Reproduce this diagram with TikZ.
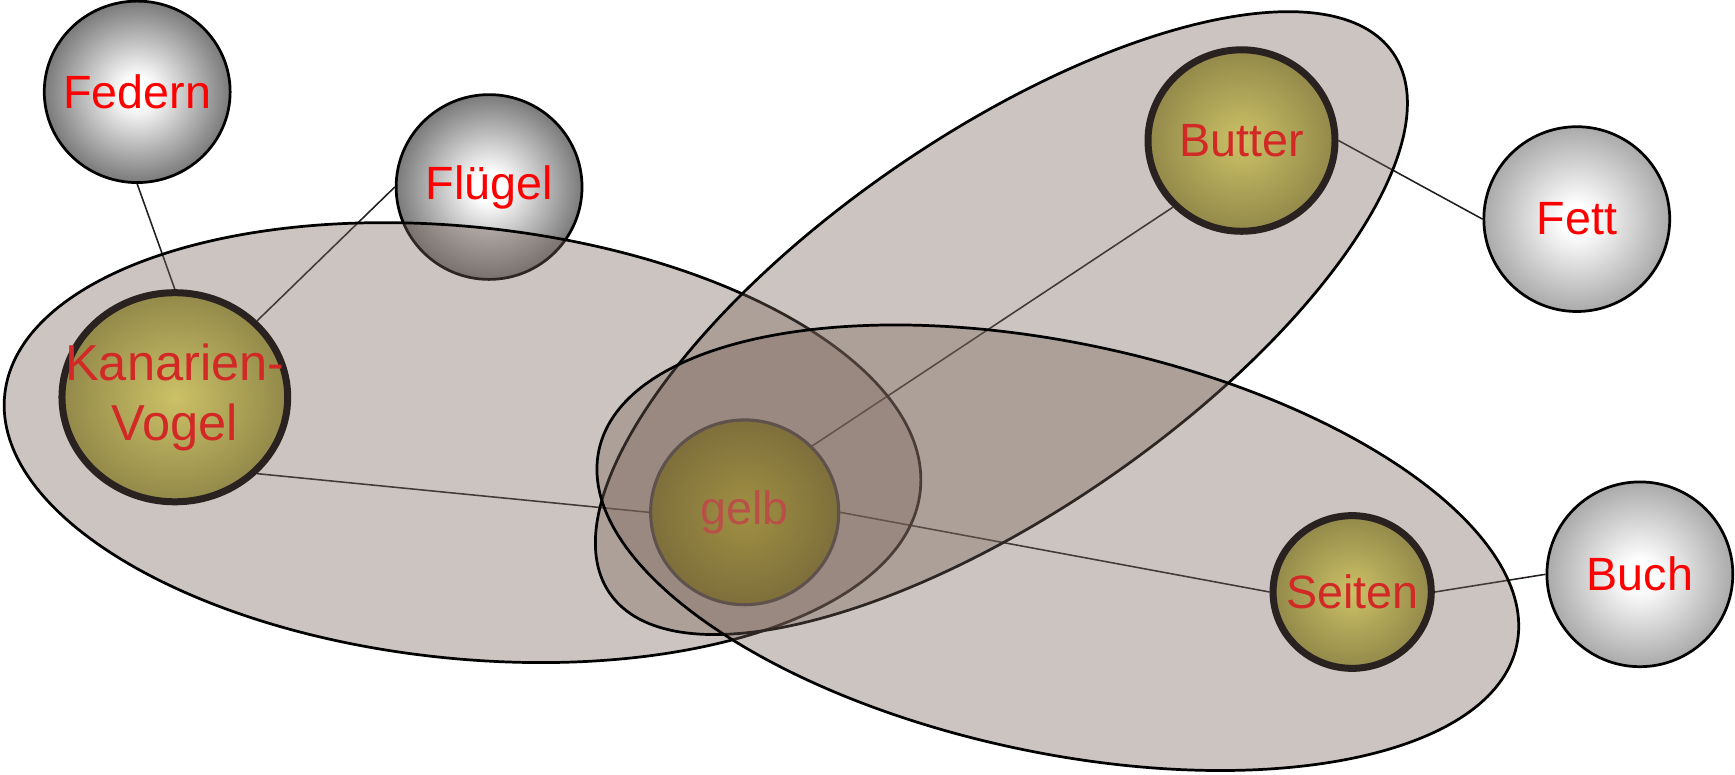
\documentclass[tikz,border=0pt]{standalone}
\usepackage{fontspec}
\setmainfont{Liberation Sans}
\usepackage{xcolor}
\usetikzlibrary{shapes.geometric}

\definecolor{featuregrey}{RGB}{122,122,122}
\definecolor{featurelight}{RGB}{170,170,170}
\definecolor{conceptcore}{RGB}{204,193,102}
\definecolor{conceptedge}{RGB}{146,137,74}
\definecolor{conceptrim}{RGB}{42,34,32}
\definecolor{concepttext}{RGB}{210,40,38}
\definecolor{sharedcore}{RGB}{160,144,66}
\definecolor{sharededge}{RGB}{126,111,60}
\definecolor{sharedrim}{RGB}{95,82,76}
\definecolor{sharedtext}{RGB}{185,80,72}
\definecolor{fieldfill}{RGB}{121,100,90}
\definecolor{linkgrey}{RGB}{35,31,32}

\pgfdeclareradialshading{featuredark}{\pgfpointorigin}{color(0bp)=(white); color(4bp)=(white); color(25bp)=(featuregrey); color(50bp)=(featuregrey)}
\pgfdeclareradialshading{featurelite}{\pgfpointorigin}{color(0bp)=(white); color(4bp)=(white); color(25bp)=(featurelight); color(50bp)=(featurelight)}
\pgfdeclareradialshading{conceptshade}{\pgfpointorigin}{color(0bp)=(conceptcore); color(25bp)=(conceptedge); color(50bp)=(conceptedge)}
\pgfdeclareradialshading{sharedshade}{\pgfpointorigin}{color(0bp)=(sharedcore); color(25bp)=(sharededge); color(50bp)=(sharededge)}

\pgfdeclarelayer{links}
\pgfdeclarelayer{fields}
\pgfsetlayers{links,fields,main}

\begin{document}
\begin{tikzpicture}[
    line width=0.8pt,
    feature/.style={draw=black, line width=0.7pt, ellipse, inner sep=-0.3cm, minimum width=1.68cm, minimum height=1.67cm, text=red, font=\fontsize{12}{14}\selectfont, shading=featuredark},
    concept/.style={draw=conceptrim, line width=1.8pt, ellipse, inner sep=-0.3cm, text=concepttext, font=\fontsize{12}{14}\selectfont, shading=conceptshade},
    shared/.style={draw=sharedrim, ellipse, inner sep=-0.3cm, minimum width=1.70cm, minimum height=1.67cm, text=sharedtext, font=\fontsize{12}{14}\selectfont, shading=sharedshade},
    field/.style={draw=black, line width=0.7pt, fill=fieldfill, fill opacity=0.38},
    link/.style={draw=linkgrey}
]
    \useasboundingbox (0,0) rectangle (15.68,7.00);

    % ================= CONCEPTS =================
    \node[concept, minimum width=2.04cm, minimum height=1.89cm, align=center, font=\fontsize{13}{15.3}\selectfont] (KANARIEN) at (1.58, 3.41) {Kanarien-\\Vogel};
    \node[concept, minimum width=1.69cm, minimum height=1.64cm] (BUTTER) at (11.22, 5.73) {Butter};
    \node[concept, minimum width=1.43cm, minimum height=1.38cm] (SEITEN) at (12.22, 1.65) {Seiten};
    \node[shared] (GELB) at (6.73, 2.37) {gelb};

    % ================= FEATURES =================
    \node[feature, minimum height=1.64cm] (FEDERN) at (1.24, 6.17) {Federn};
    \node[feature, shading=featurelite] (FETT) at (14.25, 5.02) {Fett};
    \node[feature, shading=featurelite] (BUCH) at (14.82, 1.81) {Buch};

    % ================= LINKS (below the fields) =================
    \begin{pgfonlayer}{links}
        \node[feature] (FLUEGEL) at (4.42, 5.31) {Flügel};

        \draw[link] (FEDERN.south) -- (KANARIEN.north);
        \draw[link] (FLUEGEL.west) -- (KANARIEN.north east);
        \draw[link] (KANARIEN.south east) -- (GELB.west);
        \draw[link] (GELB.north east) -- (BUTTER.south west);
        \draw[link] (GELB.east) -- (SEITEN.west);
        \draw[link] (BUTTER.east) -- (FETT.west);
        \draw[link] (SEITEN.east) -- (BUCH.west);
    \end{pgfonlayer}

    % ================= FIELDS =================
    \begin{pgfonlayer}{fields}
        \draw[field] (4.18, 3.00) circle [x radius=4.16, y radius=1.95, rotate=-6];
        \draw[field] (9.05, 4.08) circle [x radius=4.30, y radius=1.70, rotate=34.6];
        \draw[field] (9.56, 2.05) circle [x radius=4.24, y radius=1.85, rotate=-12];
    \end{pgfonlayer}

\end{tikzpicture}
\end{document}
